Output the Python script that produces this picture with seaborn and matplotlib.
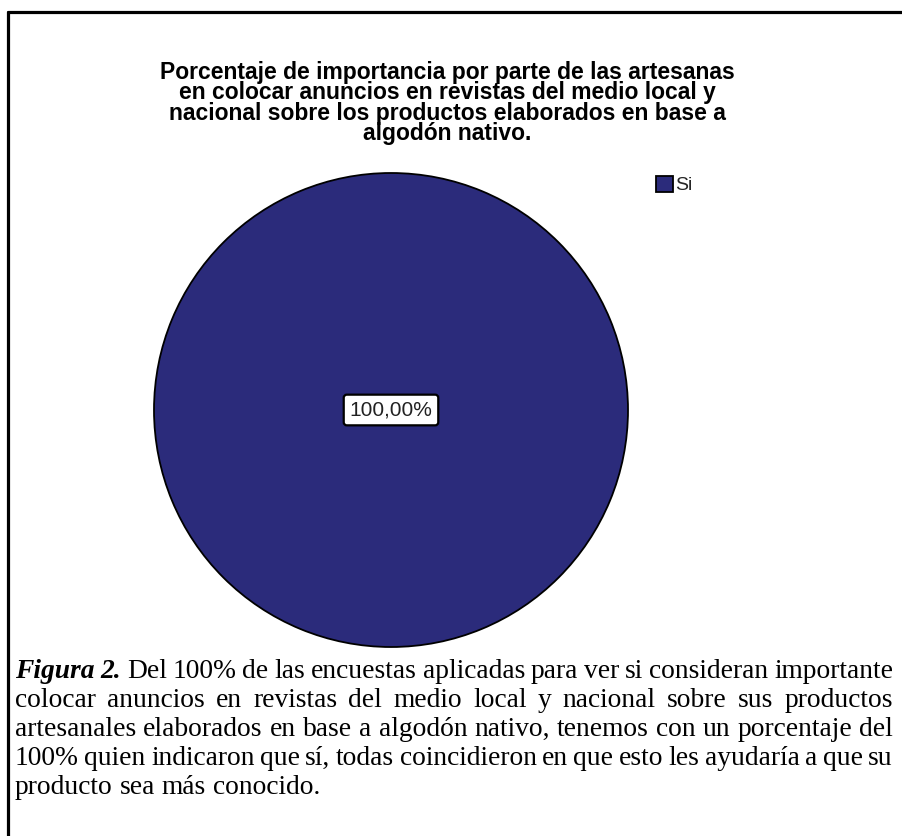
import matplotlib
matplotlib.use("Agg")
import matplotlib.pyplot as plt
import pandas as pd
import seaborn as sns
from matplotlib.lines import Line2D

# ---- data ----
categories = ["Si"]
percentages = [100.0]

title_lines = [
    "Porcentaje de importancia por parte de las artesanas",
    "en colocar anuncios en revistas del medio local y",
    "nacional sobre los productos elaborados en base a",
    "algodón nativo.",
]

caption_lead = "Figura 2."
caption_lines = [
    "Del 100% de las encuestas aplicadas para ver si consideran importante",
    "colocar anuncios en revistas del medio local y nacional sobre sus productos",
    "artesanales elaborados en base a algodón nativo, tenemos con un porcentaje del",
    "100% quien indicaron que sí, todas coincidieron en que esto les ayudaría a que su",
    "producto sea más conocido.",
]

slice_color = "#2B2B7B"

# ---- figure ----
sns.set_theme(style="white")
plt.rcParams["font.family"] = ["Liberation Sans", "DejaVu Sans"]

W, H, DPI = 903, 836, 100
fig = plt.figure(figsize=(W / DPI, H / DPI), dpi=DPI)
fig.patch.set_facecolor("white")


def fx(px):
    return px / W


def fy(py):
    return 1 - py / H


# frame around figure and caption
fig.add_artist(Line2D([fx(8), fx(8)], [fy(12), 0], transform=fig.transFigure,
                      color="black", lw=2.3))
fig.add_artist(Line2D([fx(8), 1], [fy(12), fy(12)], transform=fig.transFigure,
                      color="black", lw=2.3))

# ---- pie ----
cx, cy, r = 391, 410, 237
ax = fig.add_axes([fx(cx - r), fy(cy + r), 2 * r / W, 2 * r / H])
df = pd.DataFrame({"categoria": categories, "porcentaje": percentages})
wedges, _ = ax.pie(df["porcentaje"], colors=[slice_color], startangle=90,
                   counterclock=False, radius=1,
                   wedgeprops=dict(edgecolor="black", linewidth=1.3))
for w in wedges:
    w.set_clip_on(False)
ax.set_xlim(-1, 1)
ax.set_ylim(-1, 1)
ax.set_aspect("equal")
ax.axis("off")

for val in df["porcentaje"]:
    label = f"{val:.2f}%".replace(".", ",")
    ax.text(0, 0, label, ha="center", va="center", fontsize=15, color="#222222",
            bbox=dict(boxstyle="round,pad=0.28,rounding_size=0.15", fc="white",
                      ec="black", lw=1.6))

fig.legend(handles=wedges, labels=list(df["categoria"]), loc="upper left",
           bbox_to_anchor=(fx(656), fy(176)), frameon=False, fontsize=14,
           handlelength=0.85, handleheight=0.85, handletextpad=0.15,
           borderpad=0, borderaxespad=0)

# ---- title (one block, tight leading) ----
fig.text(fx(447), fy(103), "\n".join(title_lines), ha="center", va="center",
         multialignment="center", fontsize=16.5, fontweight="bold",
         color="black", linespacing=0.86)

# ---- justified caption ----
fig.canvas.draw()
renderer = fig.canvas.get_renderer()
serif = ["Liberation Serif", "DejaVu Serif"]


def width_of(text, size, **kw):
    t = fig.text(0, 0, text, fontsize=size, family=serif, **kw)
    w = t.get_window_extent(renderer).width
    t.remove()
    return w


lead_style = dict(fontweight="bold", fontstyle="italic")
tokens = []
for i, line in enumerate(caption_lines):
    toks = [(w, {}) for w in line.split()]
    if i == 0:
        toks = [(w, lead_style) for w in caption_lead.split()] + toks
    tokens.append(toks)

x_left, x_right = 15, 893
base_size = 16.0
# size chosen so the densest line fits with a tight word spacing
dense = tokens[3]
nat = sum(width_of(w, base_size, **st) for w, st in dense) \
    + (len(dense) - 1) * 0.2 * base_size * DPI / 72
cap_size = base_size * (x_right - x_left) / nat

cap_baselines = [678, 707, 736, 765, 794]
for li, (toks, yb) in enumerate(zip(tokens, cap_baselines)):
    widths = [width_of(w, cap_size, **st) for w, st in toks]
    last = li == len(tokens) - 1
    if last:
        gap = 0.25 * cap_size * DPI / 72
    else:
        gap = (x_right - x_left - sum(widths)) / (len(toks) - 1)
    x = x_left
    for (w, st), wd in zip(toks, widths):
        fig.text(fx(x), fy(yb), w, fontsize=cap_size, family=serif,
                 va="baseline", ha="left", color="black", **st)
        x += wd + gap

fig.savefig("out.png", dpi=DPI, facecolor="white")
